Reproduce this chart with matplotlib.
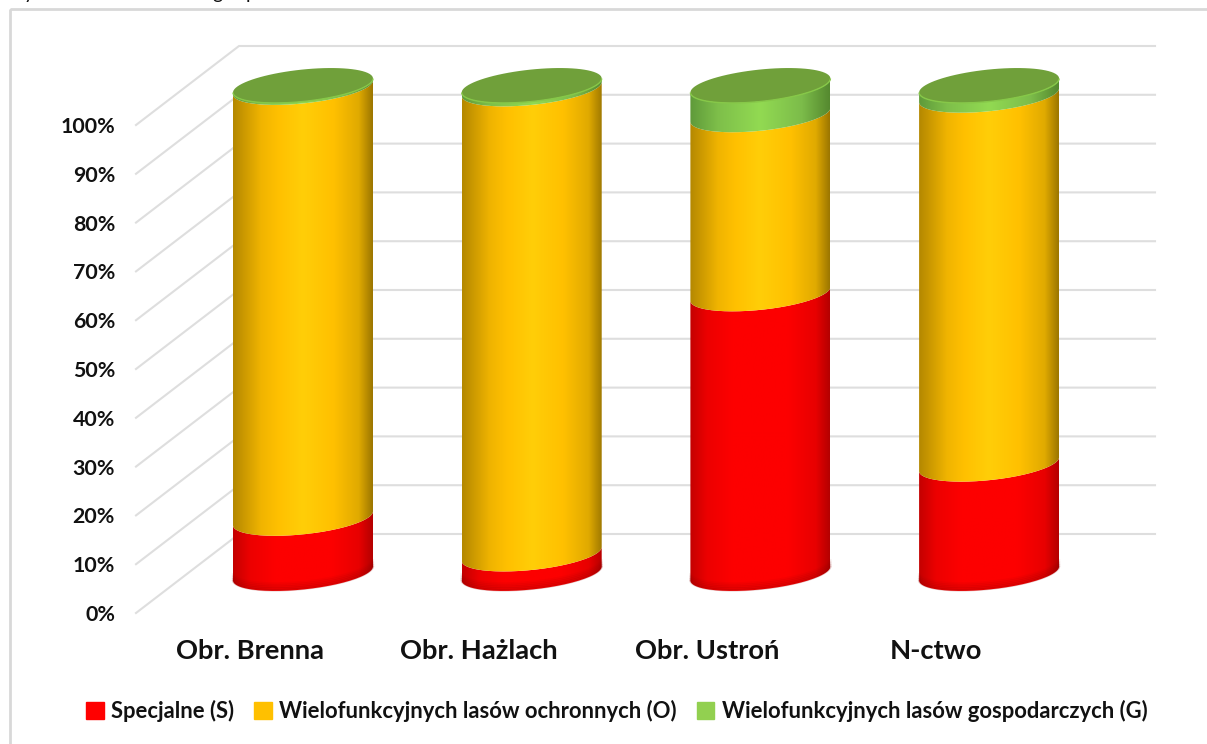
import numpy as np
import matplotlib
matplotlib.use('Agg')
import matplotlib.pyplot as plt
from matplotlib.colors import LinearSegmentedColormap
from matplotlib.patches import PathPatch, Patch, Rectangle
from matplotlib.path import Path

plt.rcParams['font.family'] = ['Lato', 'DejaVu Sans']

# values, in percent
categories = ['Obr. Brenna', 'Obr. Hażlach', 'Obr. Ustroń', 'N-ctwo']
specjalne = [11.3, 4.0, 57.3, 22.4]
ochronne = [88.3, 95.3, 36.7, 75.6]
gospodarcze = [0.4, 0.7, 6.0, 2.0]
ticks = [0, 10, 20, 30, 40, 50, 60, 70, 80, 90, 100]
legend_names = ['Specjalne (S)', 'Wielofunkcyjnych lasów ochronnych (O)', 'Wielofunkcyjnych lasów gospodarczych (G)']

W, H = 1207, 744
# one category = 228.7 px, one percent = 4.88 px
px_x = 228.7
px_y = 4.88
x0, y0 = 303.0, 573.5

fig = plt.figure(figsize=(W/100, H/100), dpi=100, facecolor='white')
ax = fig.add_axes([0, 0, 1, 1])
ax.axis('off')

rx = 70/px_x
tilt = 7/px_y
ry = 16/px_y

def arc(cx, level, start, stop):
    t = np.linspace(start, stop, 80)
    return np.column_stack([cx + rx*np.cos(t), level + tilt*np.cos(t) - ry*np.sin(t)])

# walls: front end, corner, back end of every gridline
front_x = (136-x0)/px_x
back_x = (239-x0)/px_x
end_x = (1155-x0)/px_x
front_dy = -39.5/px_y
back_dy = 39.5/px_y
for v in ticks:
    ax.plot([front_x, back_x, end_x], [v+front_dy, v+back_dy, v+back_dy], color='#dedede', lw=1.5, zorder=1, solid_joinstyle='miter')
    ax.text((115-x0)/px_x, v+front_dy-2/px_y, '%d%%' % v, ha='right', va='center', fontsize=15.4, fontweight='bold', color='#111111')

red = LinearSegmentedColormap.from_list('r', [(0, '#c40000'), (0.12, '#ec0000'), (0.3, '#fd0000'), (0.7, '#fd0000'), (0.9, '#e80000'), (1, '#b40000')])
yellow = LinearSegmentedColormap.from_list('y', [(0, '#b48800'), (0.2, '#f0b400'), (0.32, '#ffc000'), (0.5, '#ffce08'), (0.72, '#ffc000'), (0.9, '#e0aa00'), (1, '#9c7600')])
green = LinearSegmentedColormap.from_list('g', [(0, '#5f9a3a'), (0.2, '#7ebf4a'), (0.5, '#92da52'), (0.8, '#7cbc4a'), (1, '#55892f')])
grad = np.linspace(0, 1, 256).reshape(1, -1)

for i in range(len(categories)):
    levels = [0, specjalne[i], specjalne[i]+ochronne[i], specjalne[i]+ochronne[i]+gospodarcze[i]]
    for j, cmap in enumerate([red, yellow, green]):
        lo = arc(i, levels[j], np.pi, 0)
        hi = arc(i, levels[j+1], 0, np.pi)
        body = Path(np.vstack([lo, hi, lo[:1]]), closed=False)
        im = ax.imshow(grad, cmap=cmap, extent=[i-rx, i+rx, levels[j]-ry-tilt, levels[j+1]+ry+tilt], aspect='auto', zorder=3+j, interpolation='bilinear')
        im.set_clip_path(PathPatch(body, transform=ax.transData))
    # darker rim at the foot of the red part
    for k in range(5):
        shade = arc(i, 0.15+k*0.35, np.pi, 0)
        ax.plot(shade[:, 0], shade[:, 1], color='#8c0000', lw=1.8, alpha=0.22-k*0.04, zorder=3.5, solid_capstyle='butt')
    top = arc(i, levels[3], 0, 2*np.pi)
    ax.fill(top[:, 0], top[:, 1], color='#70a03a', lw=0, zorder=7)
    rim = arc(i, levels[3], np.pi, 0)
    ax.plot(rim[:, 0], rim[:, 1], color='#86c848', lw=1.0, zorder=8, solid_capstyle='butt')
    ax.text(i-0.232, -15.9, categories[i], ha='center', va='center', fontsize=19.7, fontweight='bold', color='#111111')

# frame of the pasted picture, only top and left are inside the crop
ax.add_patch(Rectangle(((10-x0)/px_x, (y0-9)/px_y), 1300/px_x, -900/px_y, fill=False, ec='#d8d8d8', lw=2, zorder=0))

handles = [Patch(color=c) for c in ['#ff0000', '#ffc000', '#92d050']]
ax.legend(handles, legend_names, loc='center', bbox_to_anchor=(617/W, 1-711/H), ncol=3, frameon=False,
          prop={'size': 15.8, 'weight': 'bold'}, handlelength=0.8, handleheight=0.8, handletextpad=0.35, columnspacing=0.9, labelcolor='#111111')

# cut off line of text from the page above the picture
for letter, lx in zip(['y', 'g', 'p'], [24, 212, 246]):
    ax.text((lx-x0)/px_x, (y0+1)/px_y, letter, fontsize=14, color='#111111', va='baseline', clip_on=True)

ax.set_xlim(-x0/px_x, (W-x0)/px_x)
ax.set_ylim((y0-H)/px_y, y0/px_y)
fig.savefig('out.png', dpi=100)
